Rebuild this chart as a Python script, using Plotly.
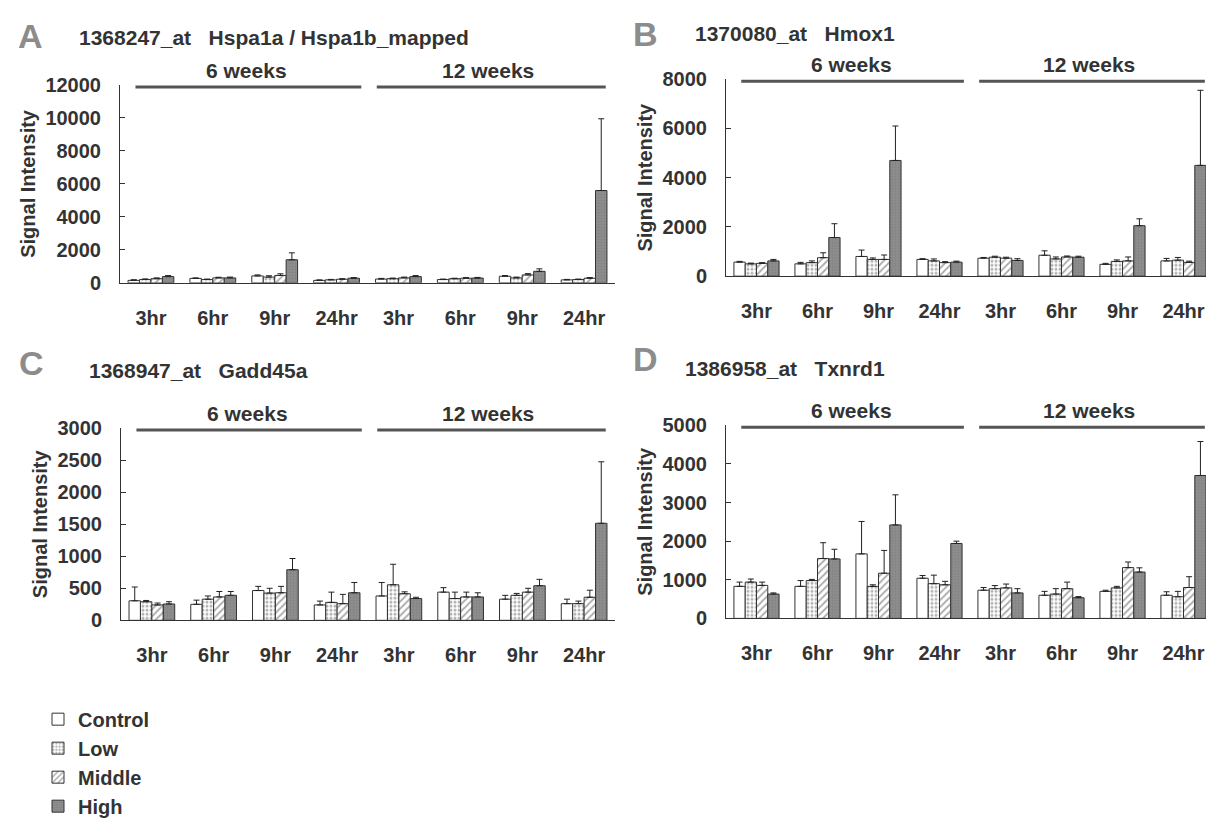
import plotly.graph_objects as go

OFF = 8                      # page body margin of the html page
W, H = 1214 - OFF, 826 - OFF

times = ["3hr", "6hr", "9hr", "24hr"]
weeks = ["6 weeks", "12 weeks"]
series = ["Control", "Low", "Middle", "High"]

# ---- Panel A: 1368247_at Hspa1a / Hspa1b_mapped ----
hspa_control = [150, 270, 420, 150, 230, 200, 400, 180]
hspa_low = [200, 200, 350, 180, 250, 250, 300, 200]
hspa_middle = [250, 300, 450, 220, 300, 280, 480, 280]
hspa_high = [380, 300, 1400, 280, 380, 290, 700, 5600]
hspa_control_sd = [40, 30, 60, 30, 40, 30, 40, 30]
hspa_low_sd = [40, 30, 80, 30, 40, 30, 50, 30]
hspa_middle_sd = [50, 40, 100, 30, 50, 40, 80, 40]
hspa_high_sd = [60, 50, 420, 40, 60, 40, 150, 4350]

# ---- Panel B: 1370080_at Hmox1 ----
hmox_control = [570, 500, 800, 680, 730, 850, 480, 620]
hmox_low = [500, 550, 680, 620, 770, 700, 600, 650]
hmox_middle = [520, 750, 680, 550, 730, 780, 620, 560]
hmox_high = [620, 1570, 4700, 570, 640, 770, 2050, 4500]
hmox_control_sd = [30, 60, 260, 30, 30, 180, 40, 100]
hmox_low_sd = [30, 70, 60, 80, 40, 80, 60, 110]
hmox_middle_sd = [30, 200, 180, 40, 40, 40, 160, 50]
hmox_high_sd = [60, 560, 1400, 40, 70, 40, 280, 3050]

# ---- Panel C: 1368947_at Gadd45a ----
gadd_control = [305, 250, 465, 240, 380, 440, 330, 260]
gadd_low = [290, 330, 425, 280, 555, 340, 390, 260]
gadd_middle = [240, 365, 430, 260, 415, 365, 440, 360]
gadd_high = [255, 390, 790, 430, 340, 365, 540, 1515]
gadd_control_sd = [215, 65, 65, 60, 210, 70, 60, 70]
gadd_low_sd = [20, 50, 75, 160, 320, 100, 30, 40]
gadd_middle_sd = [30, 85, 100, 145, 30, 75, 60, 110]
gadd_high_sd = [35, 60, 175, 160, 20, 65, 100, 960]

# ---- Panel D: 1386958_at Txnrd1 ----
txn_control = [830, 830, 1670, 1040, 730, 600, 700, 600]
txn_low = [940, 980, 830, 900, 770, 630, 790, 560]
txn_middle = [855, 1550, 1170, 870, 790, 770, 1315, 800]
txn_high = [630, 1540, 2420, 1940, 660, 535, 1200, 3700]
txn_control_sd = [110, 150, 840, 70, 70, 100, 30, 90]
txn_low_sd = [80, 30, 40, 220, 80, 140, 40, 140]
txn_middle_sd = [85, 410, 590, 90, 100, 170, 145, 280]
txn_high_sd = [30, 250, 780, 60, 110, 30, 110, 880]

panel_letters = ["A", "B", "C", "D"]
panel_titles = [
    "1368247_at\u00a0\u00a0\u00a0Hspa1a / Hspa1b_mapped",
    "1370080_at\u00a0\u00a0\u00a0Hmox1",
    "1368947_at\u00a0\u00a0\u00a0Gadd45a",
    "1386958_at\u00a0\u00a0\u00a0Txnrd1",
]
y_ranges = [12000, 8000, 3000, 5000]
y_dticks = [2000, 2000, 500, 1000]

panel_means = [
    [hspa_control, hspa_low, hspa_middle, hspa_high],
    [hmox_control, hmox_low, hmox_middle, hmox_high],
    [gadd_control, gadd_low, gadd_middle, gadd_high],
    [txn_control, txn_low, txn_middle, txn_high],
]
panel_sds = [
    [hspa_control_sd, hspa_low_sd, hspa_middle_sd, hspa_high_sd],
    [hmox_control_sd, hmox_low_sd, hmox_middle_sd, hmox_high_sd],
    [gadd_control_sd, gadd_low_sd, gadd_middle_sd, gadd_high_sd],
    [txn_control_sd, txn_low_sd, txn_middle_sd, txn_high_sd],
]

# categories (unique keys) and tick labels
cat_keys = [f"{w}|{t}" for w in weeks for t in times]
cat_labels = [t for w in weeks for t in times]

# ---- styling ----
FONT = "Liberation Sans, Arial, sans-serif"
TXT = "#333333"
styles = {
    "Control": dict(color="white", pattern=dict(shape="")),
    "Low": dict(color="white", pattern=dict(shape=".", fgcolor="#666666", size=4, solidity=0.45)),
    "Middle": dict(color="white", pattern=dict(shape="/", fgcolor="#555555", size=5, solidity=0.35)),
    "High": dict(color="#8e8e8e", pattern=dict(shape=".", fgcolor="#747474", size=3, solidity=0.3)),
}

# pixel layout (page coordinates) of the 4 plotting areas: (x0, x1, ytop, ybottom)
boxes = [
    (120, 615, 77, 284),
    (726, 1214, 71, 277),
    (121, 615, 436, 637),
    (726, 1214, 433, 635),
]
letter_pos = [(30, 26), (645, 24), (31, 368), (645, 364)]
title_pos = [(77, 27), (693, 23), (87, 376), (683, 374)]


def px(x):
    return (x - OFF) / W


def py(y):
    return 1 - (y - OFF) / H


fig = go.Figure()
layout = dict(
    width=W, height=H,
    margin=dict(l=0, r=0, t=0, b=0),
    paper_bgcolor="white", plot_bgcolor="white",
    barmode="group", bargap=0.26, bargroupgap=0.0,
    font=dict(family=FONT, color=TXT, size=20),
    showlegend=True,
    legend=dict(
        x=px(38), y=py(720), xanchor="left", yanchor="top",
        font=dict(family=FONT, size=20, color=TXT, weight="bold"),
        tracegroupgap=0, itemwidth=30, bgcolor="rgba(0,0,0,0)",
    ),
)
annotations = []
shapes = []

for p in range(4):
    sfx = "" if p == 0 else str(p + 1)
    xa, ya = "x" + sfx, "y" + sfx
    x0, x1, yt, yb = boxes[p]
    for s_i, s in enumerate(series):
        st = styles[s]
        fig.add_trace(go.Bar(
            x=cat_keys, y=panel_means[p][s_i], name=s,
            xaxis=xa, yaxis=ya,
            legendgroup=s, showlegend=(p == 0),
            marker=dict(color=st["color"], line=dict(color="#333333", width=1),
                        pattern=st["pattern"]),
            error_y=dict(type="data", symmetric=False, array=panel_sds[p][s_i],
                         arrayminus=[0] * len(cat_keys),
                         color="#222222", thickness=1, width=3),
        ))
    layout["xaxis" + sfx] = dict(
        domain=[px(x0), px(x1)], anchor=ya,
        type="category", categoryorder="array", categoryarray=cat_keys,
        tickmode="array", tickvals=cat_keys, ticktext=cat_labels,
        showline=True, linecolor="#333333", linewidth=1,
        ticks="", showgrid=False, zeroline=False,
        tickfont=dict(family=FONT, size=20, color=TXT, weight="bold"),
        ticklabelstandoff=17,
    )
    layout["yaxis" + sfx] = dict(
        domain=[py(yb), py(yt)], anchor=xa,
        range=[0, y_ranges[p]], dtick=y_dticks[p], tick0=0, tickformat="d",
        showline=True, linecolor="#333333", linewidth=1,
        ticks="inside", ticklen=5, tickcolor="#333333",
        showgrid=False, zeroline=False,
        tickfont=dict(family=FONT, size=20, color=TXT, weight="bold"),
        ticklabelstandoff=14,
        title=dict(text="Signal Intensity", standoff=4,
                   font=dict(family=FONT, size=20, color=TXT, weight="bold")),
    )
    # week bars and labels
    for (a, b, cx, lab) in [(-0.25, 3.4, 1.55, weeks[0]), (3.65, 7.35, 5.45, weeks[1])]:
        shapes.append(dict(type="line", xref=xa, yref=ya + " domain",
                           x0=a, x1=b, y0=0.99, y1=0.99,
                           line=dict(color="#555555", width=3)))
        annotations.append(dict(text=lab, xref=xa, yref=ya + " domain",
                                x=cx, y=1.075, showarrow=False,
                                xanchor="center", yanchor="middle",
                                font=dict(family=FONT, size=21, color=TXT, weight="bold")))
    lx, ly = letter_pos[p]
    annotations.append(dict(text=panel_letters[p], xref="paper", yref="paper",
                            x=px(lx), y=py(ly), showarrow=False,
                            xanchor="center", yanchor="middle",
                            font=dict(family=FONT, size=34, color="#8c8c8c", weight="bold")))
    tx, ty = title_pos[p]
    annotations.append(dict(text=panel_titles[p], xref="paper", yref="paper",
                            x=px(tx), y=py(ty), showarrow=False,
                            xanchor="left", yanchor="middle",
                            font=dict(family=FONT, size=21, color=TXT, weight="bold")))

layout["annotations"] = annotations
layout["shapes"] = shapes
fig.update_layout(**layout)
fig.write_html("out.html")
